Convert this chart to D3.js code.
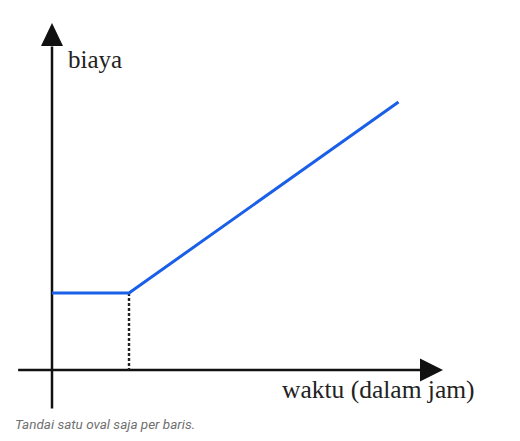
<!DOCTYPE html>
<html><head><meta charset="utf-8">
<script src="https://cdn.jsdelivr.net/npm/d3@7"></script>
<style>html,body{margin:0;padding:0;background:#fff;}svg{display:block;}</style>
</head><body>
<script>
// data
const times = [0, 1, 4.5];
const costs = [1, 1, 3.48];
const breakTime = 1;
const yLabel = "biaya";
const xLabel = "waktu (dalam jam)";
const caption = "Tandai satu oval saja per baris.";

const W = 520, H = 441;
const svg = d3.select("body").append("svg").attr("width", W).attr("height", H);

const x = d3.scaleLinear().domain([0, 5]).range([52, 437]);
const y = d3.scaleLinear().domain([0, 4.5]).range([370, 23.5]);

// axes
svg.append("line").attr("x1", x(-0.44)).attr("x2", x(4.9)).attr("y1", y(0)).attr("y2", y(0))
  .attr("stroke", "#111").attr("stroke-width", 2.5);
svg.append("line").attr("x1", x(0)).attr("x2", x(0)).attr("y1", y(-0.5)).attr("y2", y(4.2))
  .attr("stroke", "#111").attr("stroke-width", 2.5);
// arrowheads
const ax = x(0), ay = y(0);
svg.append("path").attr("d", `M${ax},23 L${ax-11},46 L${ax+11},46 Z`).attr("fill", "#111");
svg.append("path").attr("d", `M443,${ay} L420,${ay-11.5} L420,${ay+11.5} Z`).attr("fill", "#111");

// dashed line
svg.append("line").attr("x1", x(breakTime)).attr("x2", x(breakTime))
  .attr("y1", y(costs[1])).attr("y2", y(0))
  .attr("stroke", "#222").attr("stroke-width", 2.4).attr("stroke-dasharray", "3,2");

// cost line
const line = d3.line().x((d, i) => x(times[i])).y(d => y(d));
svg.append("path").datum(costs).attr("d", line)
  .attr("fill", "none").attr("stroke", "#1a5fe8").attr("stroke-width", 3).attr("stroke-linejoin", "round");

// labels
svg.append("text").attr("x", 68).attr("y", 68).text(yLabel)
  .attr("font-family", "Liberation Serif, Times New Roman, serif").attr("font-size", 25).attr("fill", "#222");
svg.append("text").attr("x", 282).attr("y", 398).text(xLabel)
  .attr("font-family", "Liberation Serif, Times New Roman, serif").attr("font-size", 25.5).attr("fill", "#222");
svg.append("text").attr("x", 15).attr("y", 429).text(caption)
  .attr("font-family", "Roboto, sans-serif").attr("font-style", "italic").attr("font-size", 13.5).attr("fill", "#707070");
</script>
</body></html>
